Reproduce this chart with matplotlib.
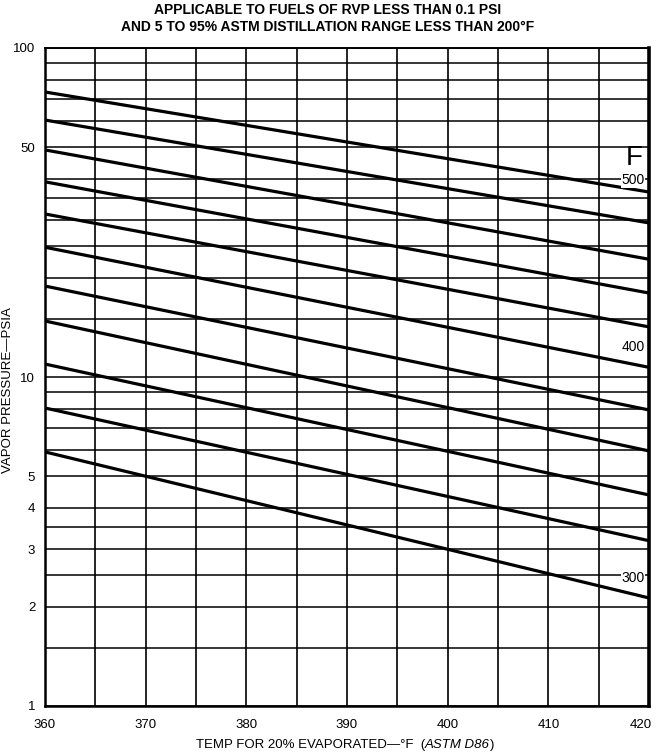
import numpy as np
import matplotlib.pyplot as plt
import matplotlib.transforms as mtransforms

plt.rcParams['font.family'] = ['Liberation Sans', 'DejaVu Sans']

# temperature range of the chart
temps = [360, 420]

# vapor pressure at 360 F and 420 F for each curve (top curve = 500, bottom = 300)
p_left = [73.5, 60.4, 49.0, 39.2, 31.3, 24.8, 18.9, 14.8, 10.95, 8.05, 5.92]
p_right = [36.5, 29.4, 22.8, 18.0, 14.2, 10.7, 7.94, 5.96, 4.38, 3.18, 2.13]

y_grid = [1, 1.5, 2, 2.5, 3, 3.5, 4, 5, 6, 7, 8, 9, 10, 15, 20, 25, 30, 35, 40,
          50, 60, 70, 80, 90, 100]
y_ticks = [1, 2, 3, 4, 5, 10, 50, 100]
x_grid = np.arange(360, 421, 5)
x_ticks = np.arange(360, 421, 10)

curve_labels = [('500', 39.6), ('400', 12.3), ('300', 2.45)]

fig = plt.figure(figsize=(6.56, 7.56), dpi=100)
ax = fig.add_axes([45/656, 50/756, 604/656, 658/756])
ax.set_yscale('log')
ax.set_xlim(360, 420)
ax.set_ylim(1, 100)

for y in y_grid:
    ax.axhline(y, color='black', lw=1.1, zorder=1)
for x in x_grid:
    ax.axvline(x, color='black', lw=1.2, zorder=1)

for a, b in zip(p_left, p_right):
    ax.plot(temps, [a, b], color='black', lw=2.3, zorder=3, solid_capstyle='butt')

ax.text(419.4, 44.2, 'F', fontsize=20, ha='right', va='baseline')
for lab, yv in curve_labels:
    ax.text(419.6, yv, lab, fontsize=10, ha='right', va='center',
            bbox=dict(facecolor='white', edgecolor='none', pad=0.3))

ax.set_xticks(x_ticks)
ax.set_xticklabels([str(t) for t in x_ticks])
ax.set_yticks(y_ticks)
ax.set_yticklabels([str(t) for t in y_ticks])
ax.yaxis.set_minor_locator(plt.NullLocator())
ax.tick_params(length=0, labelsize=9.5, pad=7)
ax.tick_params(axis='x', pad=9)

# last x label sits slightly inside the figure edge, as in the original
last = ax.get_xticklabels()[-1]
last.set_transform(last.get_transform() +
                   mtransforms.ScaledTranslation(-8/100, 0, fig.dpi_scale_trans))

for side in ['left', 'bottom']:
    ax.spines[side].set_linewidth(1.8)
ax.spines['right'].set_linewidth(2.6)
ax.spines['top'].set_linewidth(1.4)

fig.text(0.5, 1 - 10/756, 'APPLICABLE TO FUELS OF RVP LESS THAN 0.1 PSI',
         ha='center', va='center', fontsize=10, fontweight='bold')
fig.text(0.5, 1 - 27/756, 'AND 5 TO 95% ASTM DISTILLATION RANGE LESS THAN 200°F',
         ha='center', va='center', fontsize=10, fontweight='bold')

# x axis title: plain part + italic part, laid out side by side
renderer = fig.canvas.get_renderer()
parts = [('TEMP FOR 20% EVAPORATED—°F  (', 'normal'), ('ASTM D86', 'italic'), (')', 'normal')]
texts = []
for s, st in parts:
    texts.append(fig.text(0, 1 - 745/756, s, ha='left', va='center',
                          fontsize=9.5, style=st))
widths = [t.get_window_extent(renderer).width for t in texts]
x0 = 345 - sum(widths) / 2
for t, w in zip(texts, widths):
    t.set_x(x0 / 656)
    x0 += w

fig.text(8/656, 1 - 390/756, 'VAPOR PRESSURE—PSIA', rotation=90,
         ha='center', va='center', fontsize=9.5)

fig.savefig('out.png', dpi=100)
